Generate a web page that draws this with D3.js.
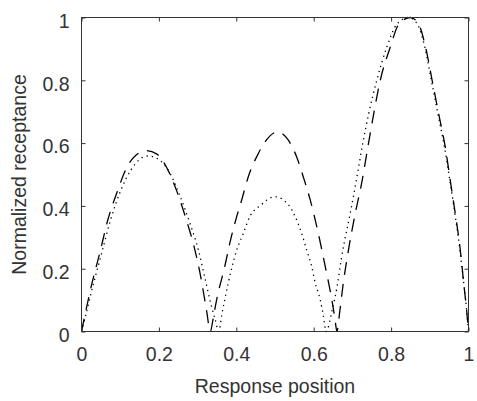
<!DOCTYPE html>
<html>
<head>
<meta charset="utf-8">
<script src="https://cdn.jsdelivr.net/npm/d3@7"></script>
<style>
  html, body { margin: 0; padding: 0; background: #fff; }
  svg { display: block; }
  text { font-family: "Liberation Sans", Arial, Helvetica, sans-serif; fill: #333; }
</style>
</head>
<body>
<svg id="chart" width="477" height="401"></svg>
<script>
// Response positions (x) and normalized receptance values for the dashed curve
const dashedPos = [
  0, 0.008, 0.025, 0.047, 0.068, 0.094, 0.116, 0.142, 0.168, 0.195, 0.221, 0.245, 0.271, 0.293, 0.308, 0.323, 0.333,
  0.34, 0.349, 0.37, 0.383, 0.401, 0.414, 0.431, 0.457, 0.478, 0.507, 0.534, 0.556, 0.573, 0.591, 0.612, 0.63, 0.647, 0.655, 0.66,
  0.667, 0.676, 0.691, 0.707, 0.725, 0.739, 0.755, 0.772, 0.798, 0.82, 0.85, 0.871, 0.889, 0.906, 0.923, 0.94, 0.953, 0.966, 0.978, 0.988, 0.995, 1
];
const dashedVal = [
  0, 0.047, 0.143, 0.249, 0.355, 0.451, 0.52, 0.563, 0.576, 0.565, 0.52, 0.451, 0.355, 0.26, 0.175, 0.068, 0,
  0.04, 0.1, 0.206, 0.28, 0.366, 0.419, 0.493, 0.567, 0.61, 0.636, 0.61, 0.556, 0.493, 0.419, 0.312, 0.206, 0.1, 0.04, 0,
  0.06, 0.15, 0.268, 0.374, 0.48, 0.58, 0.693, 0.8, 0.906, 0.979, 1.0, 0.979, 0.906, 0.8, 0.693, 0.587, 0.48, 0.374, 0.268, 0.15, 0.07, 0
];

// Same quantity for the dotted curve
const dottedPos = [
  0, 0.01, 0.029, 0.052, 0.075, 0.102, 0.128, 0.15, 0.172, 0.197, 0.226, 0.252, 0.28, 0.302, 0.318, 0.335, 0.345, 0.355,
  0.362, 0.37, 0.379, 0.389, 0.401, 0.418, 0.435, 0.461, 0.5, 0.534, 0.552, 0.569, 0.582, 0.595, 0.604, 0.617, 0.625, 0.632,
  0.648, 0.66, 0.671, 0.68, 0.694, 0.71, 0.725, 0.742, 0.763, 0.789, 0.815, 0.845, 0.868, 0.887, 0.904, 0.921, 0.938, 0.952, 0.965, 0.977, 0.988, 0.995, 1
];
const dottedVal = [
  0, 0.047, 0.143, 0.249, 0.355, 0.451, 0.515, 0.548, 0.559, 0.55, 0.51, 0.44, 0.345, 0.26, 0.175, 0.085, 0.04, 0,
  0.05, 0.1, 0.154, 0.206, 0.259, 0.312, 0.366, 0.4, 0.429, 0.405, 0.366, 0.312, 0.259, 0.206, 0.154, 0.1, 0.05, 0,
  0.07, 0.14, 0.228, 0.29, 0.374, 0.48, 0.587, 0.693, 0.8, 0.906, 0.979, 1.0, 0.979, 0.906, 0.8, 0.693, 0.587, 0.48, 0.374, 0.268, 0.15, 0.07, 0
];

const xTicks = [0, 0.2, 0.4, 0.6, 0.8, 1];
const yTicks = [0, 0.2, 0.4, 0.6, 0.8, 1];
const xTickLabels = ["0", "0.2", "0.4", "0.6", "0.8", "1"];
const yTickLabels = ["0", "0.2", "0.4", "0.6", "0.8", "1"];
const xTitle = "Response position";
const yTitle = "Normalized receptance";

const svg = d3.select("#chart");
const box = { left: 81.5, right: 468.5, top: 17.5, bottom: 331.5 };

const x = d3.scaleLinear().domain([0, 1]).range([box.left, box.right]);
const y = d3.scaleLinear().domain([0, 1]).range([box.bottom, box.top]);

const axisColor = "#333";
const fontSize = 19.5;
const tickLen = 4;

// Curves
const line = d3.line()
  .x(d => x(d[0]))
  .y(d => y(d[1]))
  .curve(d3.curveMonotoneX);

const dashed = dashedPos.map((p, i) => [p, dashedVal[i]]);
const dotted = dottedPos.map((p, i) => [p, dottedVal[i]]);

svg.append("path")
  .datum(dotted)
  .attr("d", line)
  .attr("fill", "none")
  .attr("stroke", "#000")
  .attr("stroke-width", 1.3)
  .attr("stroke-dasharray", "1.3,4");

svg.append("path")
  .datum(dashed)
  .attr("d", line)
  .attr("fill", "none")
  .attr("stroke", "#000")
  .attr("stroke-width", 1.3)
  .attr("stroke-dasharray", "13,9");

// Axes with inward ticks on all four sides
const bottomAxis = d3.axisBottom(x).tickValues(xTicks).tickSize(-tickLen).tickFormat((d, i) => xTickLabels[i]).tickPadding(16);
const topAxis = d3.axisTop(x).tickValues(xTicks).tickSize(-tickLen).tickFormat("");
const leftAxis = d3.axisLeft(y).tickValues(yTicks).tickSize(-tickLen).tickFormat((d, i) => yTickLabels[i]).tickPadding(12);
const rightAxis = d3.axisRight(y).tickValues(yTicks).tickSize(-tickLen).tickFormat("");

function styleAxis(g) {
  g.select(".domain").remove();
  g.selectAll(".tick line").attr("stroke", axisColor).attr("stroke-width", 1);
  g.selectAll(".tick text")
    .attr("fill", axisColor)
    .style("font-size", fontSize + "px")
    .style("font-family", '"Liberation Sans", Arial, sans-serif');
}

svg.append("g").attr("transform", `translate(0,${box.bottom})`).call(bottomAxis).call(styleAxis)
  .selectAll(".tick text").attr("dy", "0.71em");
svg.append("g").attr("transform", `translate(0,${box.top})`).call(topAxis).call(styleAxis);
svg.append("g").attr("transform", `translate(${box.left},0)`).call(leftAxis).call(styleAxis)
  .selectAll(".tick text").attr("dy", "0.5em");
svg.append("g").attr("transform", `translate(${box.right},0)`).call(rightAxis).call(styleAxis);

// Axes box
svg.append("rect")
  .attr("x", box.left).attr("y", box.top)
  .attr("width", box.right - box.left).attr("height", box.bottom - box.top)
  .attr("fill", "none").attr("stroke", axisColor).attr("stroke-width", 1);

// Axis titles
svg.append("text")
  .attr("x", (box.left + box.right) / 2).attr("y", 393)
  .attr("text-anchor", "middle")
  .style("font-size", fontSize + "px")
  .text(xTitle);

svg.append("text")
  .attr("transform", `translate(26,${(box.top + box.bottom) / 2}) rotate(-90)`)
  .attr("text-anchor", "middle")
  .style("font-size", fontSize + "px")
  .text(yTitle);
</script>
</body>
</html>
